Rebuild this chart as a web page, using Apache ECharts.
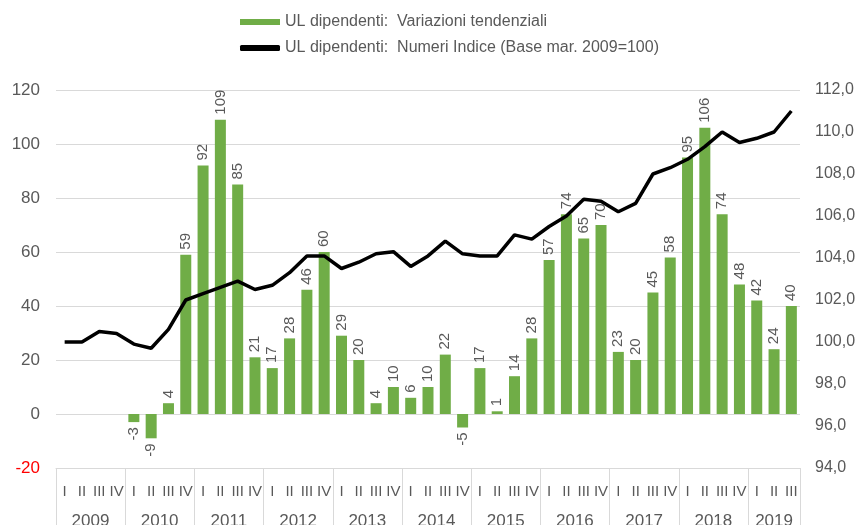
<!DOCTYPE html>
<html>
<head>
<meta charset="utf-8">
<script src="https://cdn.jsdelivr.net/npm/echarts@6/dist/echarts.min.js"></script>
<style>
    html, body { margin: 0; padding: 0; background: #fff; }
    #chart { width: 858px; height: 525px; }
</style>
</head>
<body>
<div id="chart"></div>
<script>
    // dati trimestrali 2009 I - 2019 III
    const years = ['2009', '2010', '2011', '2012', '2013', '2014', '2015', '2016', '2017', '2018', '2019'];
    const quarters = ['I', 'II', 'III', 'IV'];
    const lastYearQuarters = 3;

    const variazioni = [
        null, null, null, null,
        -3, -9, 4, 59,
        92, 109, 85, 21,
        17, 28, 46, 60,
        29, 20, 4, 10,
        6, 10, 22, -5,
        17, 1, 14, 28,
        57, 74, 65, 70,
        23, 20, 45, 58,
        95, 106, 74, 48,
        42, 24, 40,
    ];
    const numeriIndice = [
        100.0, 100.0, 100.5, 100.4,
        99.9, 99.7, 100.6, 102.0,
        102.3, 102.6, 102.9, 102.5,
        102.7, 103.3, 104.1, 104.1,
        103.5, 103.8, 104.2, 104.3,
        103.6, 104.1, 104.8, 104.2,
        104.1, 104.1, 105.1, 104.9,
        105.5, 106.0, 106.8, 106.7,
        106.2, 106.6, 108.0, 108.3,
        108.7, 109.3, 110.0, 109.5,
        109.7, 110.0, 111.0,
    ];

    const nomeBarre = 'UL dipendenti:  Variazioni tendenziali';
    const nomeLinea = 'UL dipendenti:  Numeri Indice (Base mar. 2009=100)';

    // categorie "anno trimestre"
    const categories = [];
    years.forEach((y, i) => {
        const n = i === years.length - 1 ? lastYearQuarters : 4;
        for (let q = 0; q < n; q++) categories.push(y + ' ' + quarters[q]);
    });

    const font = "'Liberation Sans', Arial, sans-serif";
    const grey = '#595959';
    const gridGrey = '#d9d9d9';

    const barData = variazioni.map((v) => {
        if (v === null) return null;
        if (v < 0) {
            return {
                value: v,
                label: { position: 'bottom', align: 'right' },
            };
        }
        return v;
    });

    const chart = echarts.init(document.getElementById('chart'));
    const option = {
        animation: false,
        textStyle: { fontFamily: font },
        legend: {
            orient: 'vertical',
            left: 235,
            top: 9,
            itemWidth: 40,
            itemHeight: 6,
            itemGap: 10,
            textStyle: { fontSize: 16, color: grey, fontFamily: font },
            data: [
                { name: nomeBarre, icon: 'rect' },
                { name: nomeLinea, icon: 'roundRect' },
            ],
        },
        grid: {
            left: 56,
            right: 58,
            top: 90,
            bottom: 57,
            outerBoundsMode: 'none',
            containLabel: false,
        },
        xAxis: [
            {
                type: 'category',
                data: categories,
                axisLine: { onZero: false, lineStyle: { color: gridGrey } },
                axisTick: {
                    show: true,
                    interval: (i) => i % 4 === 0,
                    length: 57,
                    lineStyle: { color: gridGrey },
                },
                axisLabel: {
                    interval: 0,
                    margin: 16,
                    fontSize: 15,
                    color: grey,
                    fontFamily: font,
                    formatter: (v) => v.split(' ')[1],
                },
            },
            {
                // anni, centrati sul gruppo di trimestri
                type: 'category',
                data: categories,
                position: 'bottom',
                axisLine: { show: false, onZero: false },
                axisTick: { show: false },
                axisLabel: {
                    interval: 0,
                    margin: 45,
                    fontSize: 17,
                    color: grey,
                    fontFamily: font,
                    formatter: (v, i) => {
                        const y = v.split(' ')[0];
                        if (i === categories.length - 2 && lastYearQuarters === 3) return '{c|' + y + '}';
                        if (i % 4 === 1 && i < 40) return '{s|' + y + '}';
                        return '';
                    },
                    rich: {
                        s: { fontSize: 17, color: grey, fontFamily: font, padding: [0, 0, 0, 17] },
                        c: { fontSize: 17, color: grey, fontFamily: font },
                    },
                },
            },
        ],
        yAxis: [
            {
                type: 'value',
                min: -20,
                max: 120,
                interval: 20,
                axisLine: { show: false },
                axisTick: { show: false },
                splitLine: { lineStyle: { color: gridGrey } },
                axisLabel: {
                    margin: 16,
                    fontSize: 17,
                    fontFamily: font,
                    color: (v) => (Number(v) < 0 ? '#ff0000' : grey),
                },
            },
            {
                type: 'value',
                min: 94,
                max: 112,
                interval: 2,
                axisLine: { show: false },
                axisTick: { show: false },
                splitLine: { show: false },
                axisLabel: {
                    margin: 15,
                    fontSize: 16,
                    fontFamily: font,
                    color: grey,
                    formatter: (v) => v.toFixed(1).replace('.', ','),
                },
            },
        ],
        series: [
            {
                name: nomeBarre,
                type: 'bar',
                xAxisIndex: 0,
                yAxisIndex: 0,
                barWidth: 11,
                itemStyle: { color: '#70ad47' },
                label: {
                    show: true,
                    position: 'top',
                    rotate: 90,
                    align: 'left',
                    verticalAlign: 'middle',
                    distance: 5,
                    fontSize: 15,
                    color: grey,
                    fontFamily: font,
                },
                data: barData,
            },
            {
                name: nomeLinea,
                type: 'line',
                xAxisIndex: 0,
                yAxisIndex: 1,
                symbol: 'none',
                lineStyle: { color: '#000', width: 3.5 },
                itemStyle: { color: '#000' },
                data: numeriIndice,
            },
        ],
    };
    chart.setOption(option);
</script>
</body>
</html>
